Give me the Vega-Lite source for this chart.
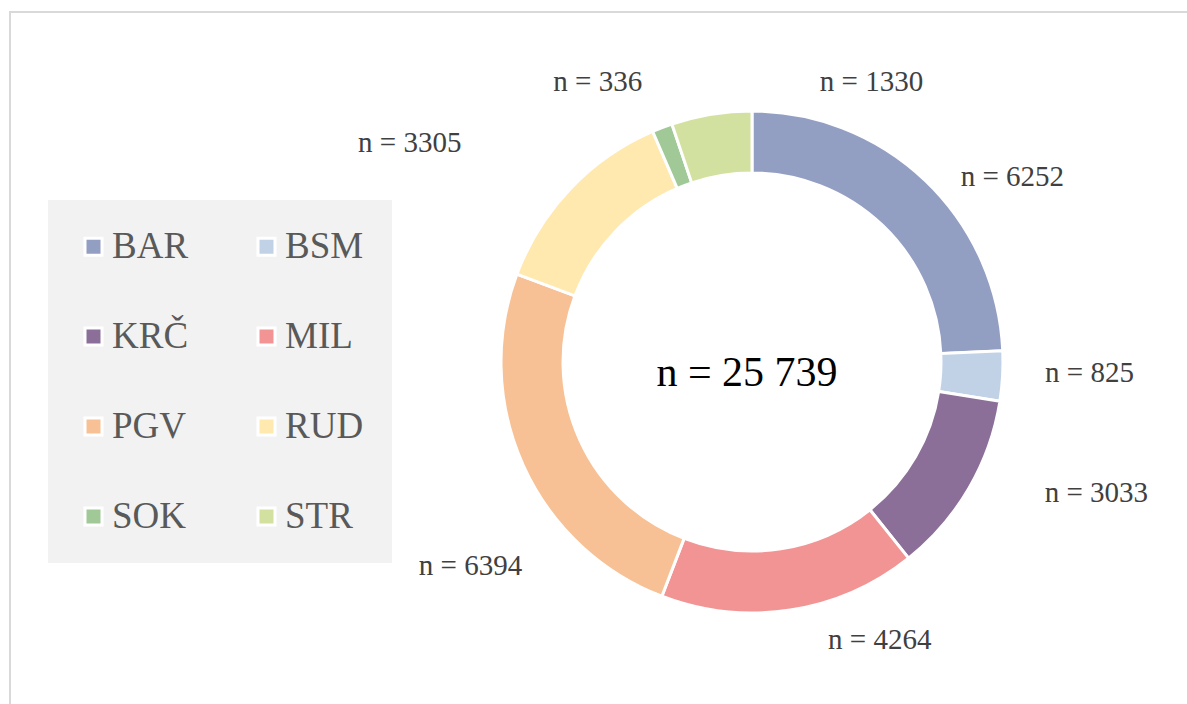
{
  "$schema": "https://vega.github.io/schema/vega-lite/v6.json",
  "width": 1484,
  "height": 700,
  "autosize": {"type": "none"},
  "padding": {"left": 10, "top": 12, "right": -307, "bottom": -8},
  "background": "white",
  "view": {"stroke": "#D9D9D9", "strokeWidth": 2, "fill": "white"},
  "config": {"view": {"stroke": "#D9D9D9", "strokeWidth": 2}, "font": "Liberation Serif"},
  "data": {
    "values": [
      {"cat": "BAR", "n": 6252, "label": "n = 6252"},
      {"cat": "BSM", "n": 825, "label": "n = 825"},
      {"cat": "KRČ", "n": 3033, "label": "n = 3033"},
      {"cat": "MIL", "n": 4264, "label": "n = 4264"},
      {"cat": "PGV", "n": 6394, "label": "n = 6394"},
      {"cat": "RUD", "n": 3305, "label": "n = 3305"},
      {"cat": "SOK", "n": 336, "label": "n = 336"},
      {"cat": "STR", "n": 1330, "label": "n = 1330"}
    ]
  },
  "layer": [
    {
      "mark": {"type": "arc", "outerRadius": 251, "innerRadius": 189, "stroke": "white", "strokeWidth": 3},
      "encoding": {
        "theta": {"field": "n", "type": "quantitative", "stack": true},
        "order": {"field": "cat", "type": "nominal", "sort": "ascending"},
        "color": {
          "field": "cat",
          "type": "nominal",
          "sort": ["BAR", "BSM", "KRČ", "MIL", "PGV", "RUD", "SOK", "STR"],
          "scale": {
            "domain": ["BAR", "BSM", "KRČ", "MIL", "PGV", "RUD", "SOK", "STR"],
            "range": ["#939EC3", "#C1D2E7", "#8B6F98", "#F29494", "#F7C195", "#FFE9AF", "#A0C997", "#D3E1A0"]
          },
          "legend": {
            "title": null,
            "orient": "none",
            "direction": "horizontal",
            "legendX": 38,
            "legendY": 188,
            "columns": 2,
            "fillColor": "#F2F2F2",
            "padding": 28,
            "symbolType": "square",
            "symbolSize": 289,
            "symbolStrokeColor": "white",
            "symbolStrokeWidth": 3,
            "symbolOpacity": 1,
            "symbolOffset": -1,
            "labelFont": "Liberation Serif",
            "labelFontSize": 37,
            "labelColor": "#595959",
            "labelOffset": 0,
            "labelLimit": 300,
            "rowPadding": 52,
            "columnPadding": 60
          }
        }
      }
    },
    {
      "mark": {
        "type": "text",
        "radius": 300,
        "font": "Liberation Serif",
        "fontSize": 29,
        "color": "#404040",
        "align": "center",
        "baseline": "middle",
        "dx": {"expr": "datum.cat === 'BAR' ? 53 : datum.cat === 'BSM' ? 38 : datum.cat === 'KRČ' ? 85 : datum.cat === 'MIL' ? 82 : datum.cat === 'PGV' ? -8 : datum.cat === 'RUD' ? -125 : datum.cat === 'SOK' ? -47 : 168"},
        "dy": {"expr": "datum.cat === 'BAR' ? 32 : datum.cat === 'BSM' ? -6 : datum.cat === 'KRČ' ? -20 : datum.cat === 'MIL' ? -18 : datum.cat === 'PGV' ? 81 : datum.cat === 'RUD' ? -12 : datum.cat === 'SOK' ? 0 : 16"}
      },
      "encoding": {
        "theta": {"field": "n", "type": "quantitative", "stack": true},
        "order": {"field": "cat", "type": "nominal", "sort": "ascending"},
        "text": {"field": "label", "type": "nominal"}
      }
    },
    {
      "data": {"values": [{"total": "n = 25 739"}]},
      "mark": {"type": "text", "font": "Liberation Serif", "fontSize": 42, "color": "#000000", "align": "center", "baseline": "middle", "dx": -5, "dy": 11},
      "encoding": {"text": {"field": "total", "type": "nominal"}}
    }
  ]
}
